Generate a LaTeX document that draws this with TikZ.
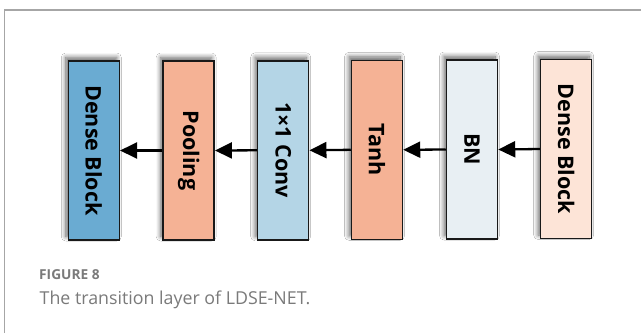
\documentclass[tikz,border=0pt]{standalone}
\usepackage{fontspec}
\setmainfont{Open Sans}
\usetikzlibrary{arrows.meta,shadows.blur}
\definecolor{cA}{HTML}{6AABD2}
\definecolor{cB}{HTML}{F5B295}
\definecolor{cC}{HTML}{B4D5E6}
\definecolor{cD}{HTML}{E8EFF3}
\definecolor{cE}{HTML}{FDE4D7}
\definecolor{frame}{HTML}{A6A6A6}
\definecolor{capgray}{HTML}{7A7A7A}
\tikzset{
  blk/.style={draw=black!90, line width=1.5pt, minimum width=51pt, minimum height=179pt,
    inner sep=0pt, font=\fontsize{21.5}{24}\selectfont\bfseries,
    blur shadow={shadow xshift=-2.5pt, shadow yshift=3.5pt, shadow blur radius=4.5pt, shadow blur steps=10, shadow opacity=60}},
  arr/.style={line width=2.3pt, -{Triangle[length=17pt,width=16pt]}}
}
\begin{document}
\begin{tikzpicture}[x=1pt,y=-1pt]
\useasboundingbox (0,0) rectangle (641,333);
\fill[white] (0,0) rectangle (641,333);
\draw[frame, line width=1.2pt] (4.5,333) -- (4.5,10) -- (641,10);
\node[blk, fill=cA] (d1) at (93.8,150.5) {\rotatebox[origin=c]{-90}{Dense Block}};
\node[blk, fill=cB] (pool) at (188.7,150.5) {\rotatebox[origin=c]{-90}{Pooling}};
\node[blk, fill=cC] (conv) at (283.2,150.3) {\rotatebox[origin=c]{-90}{1×1 Conv}};
\node[blk, fill=cB] (tanh) at (377.0,149.8) {\rotatebox[origin=c]{-90}{Tanh}};
\node[blk, fill=cD] (bn) at (472.0,149.5) {\rotatebox[origin=c]{-90}{BN}};
\node[blk, fill=cE] (d2) at (566.2,149.0) {\rotatebox[origin=c]{-90}{Dense Block}};
\draw[arr] (d2.west) -- (bn.east);
\draw[arr] (bn.west) -- (tanh.east);
\draw[arr] (tanh.west) -- (conv.east);
\draw[arr] (conv.west) -- (pool.east);
\draw[arr] (pool.west) -- (d1.east);
\node[anchor=base west, inner sep=0pt, text=capgray, font=\fontsize{13.7}{16}\selectfont\bfseries] (fig) at (39,279.5) {FIGURE 8};
\node[anchor=base west, inner sep=0pt, text=capgray, font=\fontsize{17.8}{20}\selectfont] (cap) at (39.5,304.5) {The transition layer of LDSE-NET.};
\end{tikzpicture}
\end{document}
